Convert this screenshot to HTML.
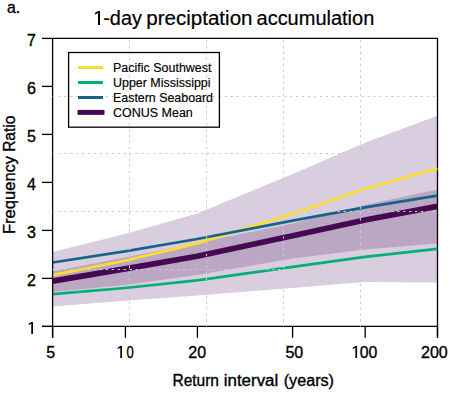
<!DOCTYPE html>
<html><head><meta charset="utf-8"><style>
html,body{margin:0;padding:0;background:#fff;}
svg{display:block;}
text{font-family:"Liberation Sans",sans-serif;fill:#000;stroke:#000;stroke-width:0.35px;}
.lg text{stroke-width:0.15px;}
.tt text{stroke-width:0.2px;}
</style></head><body>
<svg width="453" height="406" viewBox="0 0 453 406">
<rect width="453" height="406" fill="#fff"/>
<text x="7" y="13" font-size="17" textLength="13.2" lengthAdjust="spacingAndGlyphs">a.</text>
<g class="tt"><text x="103.22" y="25" font-size="19.5" textLength="38.64" lengthAdjust="spacingAndGlyphs">-day</text><text x="146.26" y="25" font-size="19.5" textLength="106.26" lengthAdjust="spacingAndGlyphs">preciptation</text><text x="256.52" y="25" font-size="19.5" textLength="117.78" lengthAdjust="spacingAndGlyphs">accumulation</text></g>
<polygon points="52.5,252.0 124.9,234.0 197.2,213.4 292.7,174.0 365.0,142.7 437.3,115.8 437.3,282.5 365.0,282.0 292.7,288.0 197.2,295.5 124.9,300.8 52.5,306.4" fill="#d9cedf"/>
<polygon points="52.5,271.5 124.9,257.5 197.2,243.0 292.7,223.6 365.0,205.0 437.3,189.4 437.3,243.6 365.0,249.6 292.7,258.4 197.2,275.0 124.9,285.0 52.5,292.0" fill="#bba7c3"/>
<g fill="none" stroke="#000" stroke-width="1.3">
<polyline points="52.6,38.4 437.5,38.4 437.5,337.8"/>
</g>
<g fill="none" stroke-linejoin="round">
<polyline points="52.5,275.1 124.9,260.7 197.2,243.4 292.7,213.8 365.0,188.8 437.3,168.4" stroke="#fddd30" stroke-width="2.7"/>
<polyline points="52.5,294.2 124.9,288.0 197.2,280.3 292.7,266.9 365.0,256.8 437.3,248.8" stroke="#02b078" stroke-width="2.7"/>
<polyline points="52.5,262.5 124.9,251.4 197.2,239.0 292.7,220.7 365.0,207.4 437.3,195.6" stroke="#156488" stroke-width="2.7"/>
<polyline points="52.5,281.1 124.9,268.9 197.2,256.2 292.7,235.7 365.0,220.0 437.3,206.4" stroke="#460853" stroke-width="5.7"/>
</g>
<g fill="none" stroke="#000" stroke-width="1.3">
<line x1="52.6" y1="38.4" x2="52.6" y2="337.8"/>
<line x1="42" y1="326.4" x2="437.5" y2="326.4"/>
<line x1="42" y1="326.4" x2="52.6" y2="326.4"/><line x1="42" y1="278.4" x2="52.6" y2="278.4"/><line x1="42" y1="230.4" x2="52.6" y2="230.4"/><line x1="42" y1="182.4" x2="52.6" y2="182.4"/><line x1="42" y1="134.4" x2="52.6" y2="134.4"/><line x1="42" y1="86.4" x2="52.6" y2="86.4"/><line x1="42" y1="38.4" x2="52.6" y2="38.4"/><line x1="52.6" y1="326.4" x2="52.6" y2="337.8"/><line x1="125.4" y1="326.4" x2="125.4" y2="337.8"/><line x1="197.4" y1="326.4" x2="197.4" y2="337.8"/><line x1="292.6" y1="326.4" x2="292.6" y2="337.8"/><line x1="365.2" y1="326.4" x2="365.2" y2="337.8"/><line x1="437.5" y1="326.4" x2="437.5" y2="337.8"/>
</g>
<g font-size="16"><text x="36" y="286.1" text-anchor="end">2</text><text x="36" y="238.1" text-anchor="end">3</text><text x="36" y="190.1" text-anchor="end">4</text><text x="36" y="142.1" text-anchor="end">5</text><text x="36" y="94.1" text-anchor="end">6</text><text x="36" y="46.1" text-anchor="end">7</text><text x="50.7" y="358" text-anchor="middle">5</text><text x="197.2" y="358" text-anchor="middle">20</text><text x="294.3" y="358" text-anchor="middle">50</text><text x="434.4" y="358" text-anchor="middle">200</text><text x="126.42" y="358" font-size="16" textLength="7.22" lengthAdjust="spacingAndGlyphs">0</text><text x="359.64" y="358" font-size="16" textLength="17.52" lengthAdjust="spacingAndGlyphs">00</text></g>
<g fill="#000"><path d="M31.29,334.00 L33.00,334.00 L33.00,322.00 L31.46,322.00 L28.54,323.71 L28.80,324.91 L31.29,323.63Z"/><path d="M120.29,358.00 L122.00,358.00 L122.00,346.00 L120.46,346.00 L117.54,347.71 L117.80,348.91 L120.29,347.63Z"/><path d="M355.39,358.00 L357.10,358.00 L357.10,346.00 L355.56,346.00 L352.64,347.71 L352.90,348.91 L355.39,347.63Z"/><path d="M98.00,25.00 L100.00,25.00 L100.00,11.00 L98.20,11.00 L94.80,13.00 L95.10,14.40 L98.00,12.90Z"/></g>
<g transform="translate(14.6,0) rotate(-90)"><text x="-234.00" y="0" font-size="16" textLength="78.10" lengthAdjust="spacingAndGlyphs">Frequency</text><text x="-151.86" y="0" font-size="16" textLength="36.26" lengthAdjust="spacingAndGlyphs">Ratio</text></g>
<text x="172.44" y="385.7" font-size="16" textLength="46.56" lengthAdjust="spacingAndGlyphs">Return</text><text x="223.74" y="385.7" font-size="16" textLength="54.52" lengthAdjust="spacingAndGlyphs">interval</text><text x="283.70" y="385.7" font-size="16" textLength="50.30" lengthAdjust="spacingAndGlyphs">(years)</text>
<g stroke="#cbcbcb" stroke-width="1.1" stroke-dasharray="2.3 3.645">
<g stroke-dashoffset="4.4"><line x1="129.5" y1="38.4" x2="129.5" y2="326.4"/><line x1="206.5" y1="38.4" x2="206.5" y2="326.4"/><line x1="283.5" y1="38.4" x2="283.5" y2="326.4"/><line x1="360.5" y1="38.4" x2="360.5" y2="326.4"/></g>
<g stroke-dashoffset="0.3"><line x1="52.6" y1="96.5" x2="437.5" y2="96.5"/><line x1="52.6" y1="153.5" x2="437.5" y2="153.5"/><line x1="52.6" y1="211.5" x2="437.5" y2="211.5"/><line x1="52.6" y1="269.5" x2="437.5" y2="269.5"/></g>
</g>
<rect x="68.6" y="52.5" width="150.8" height="74.7" fill="none" stroke="#000" stroke-width="1.3"/>
<g stroke-width="3">
<line x1="78" y1="67.5" x2="103" y2="67.5" stroke="#fddd30"/>
<line x1="78" y1="82.5" x2="103" y2="82.5" stroke="#02b078"/>
<line x1="78" y1="97.5" x2="103" y2="97.5" stroke="#156488"/>
<line x1="77.5" y1="112.4" x2="104.5" y2="112.4" stroke="#460853" stroke-width="5"/>
</g>
<g font-size="12" class="lg">
<text x="113" y="71.6" textLength="98.5" lengthAdjust="spacingAndGlyphs">Pacific Southwest</text>
<text x="113" y="86.6" textLength="97.5" lengthAdjust="spacingAndGlyphs">Upper Mississippi</text>
<text x="113" y="101.6" textLength="100" lengthAdjust="spacingAndGlyphs">Eastern Seaboard</text>
<text x="113" y="116.6" textLength="79.8" lengthAdjust="spacingAndGlyphs">CONUS Mean</text>
</g>
</svg>
</body></html>
